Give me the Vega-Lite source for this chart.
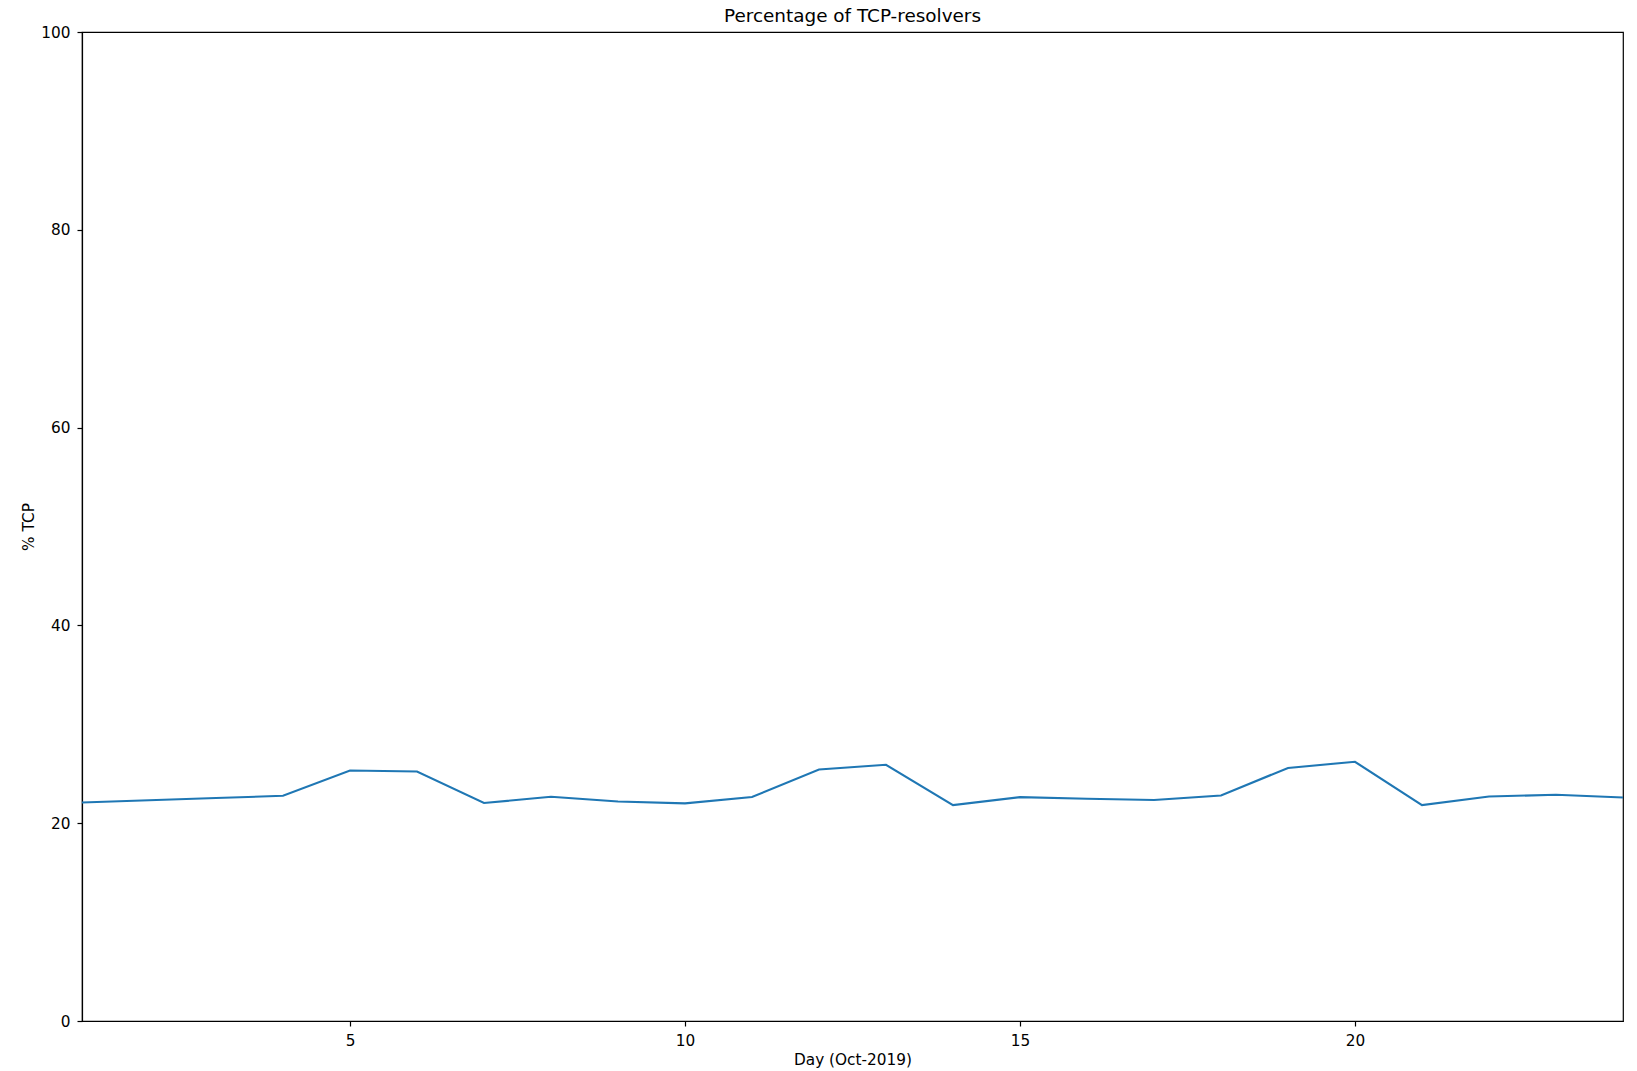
{
  "$schema": "https://vega.github.io/schema/vega-lite/v6.json",
  "width": 1541,
  "height": 989,
  "autosize": {"type": "none"},
  "padding": {"left": 82, "top": 32, "right": 14, "bottom": 50},
  "background": "white",
  "config": {
    "font": "DejaVu Sans",
    "view": {"stroke": "black", "strokeWidth": 1.2},
    "axis": {
      "grid": false,
      "domainColor": "black",
      "domainWidth": 1.2,
      "tickColor": "black",
      "tickSize": 5,
      "tickWidth": 1.2,
      "labelPadding": 7,
      "labelFontSize": 15.3,
      "labelColor": "black",
      "titleFontSize": 15.3,
      "titleFontWeight": "normal",
      "titleColor": "black",
      "labelFont": "DejaVu Sans",
      "titleFont": "DejaVu Sans"
    }
  },
  "title": {
    "text": "Percentage of TCP-resolvers",
    "fontSize": 18.4,
    "fontWeight": "normal",
    "font": "DejaVu Sans",
    "color": "black",
    "anchor": "middle",
    "frame": "group",
    "offset": 0
  },
  "data": {
    "values": [
      {"day": 1, "pct": 22.10},
      {"day": 2, "pct": 22.32},
      {"day": 3, "pct": 22.55},
      {"day": 4, "pct": 22.77},
      {"day": 5, "pct": 25.33},
      {"day": 6, "pct": 25.23},
      {"day": 7, "pct": 22.04},
      {"day": 8, "pct": 22.67},
      {"day": 9, "pct": 22.20},
      {"day": 10, "pct": 22.00},
      {"day": 11, "pct": 22.64},
      {"day": 12, "pct": 25.43},
      {"day": 13, "pct": 25.91},
      {"day": 14, "pct": 21.83},
      {"day": 15, "pct": 22.64},
      {"day": 16, "pct": 22.47},
      {"day": 17, "pct": 22.34},
      {"day": 18, "pct": 22.80},
      {"day": 19, "pct": 25.59},
      {"day": 20, "pct": 26.21},
      {"day": 21, "pct": 21.83},
      {"day": 22, "pct": 22.70},
      {"day": 23, "pct": 22.87},
      {"day": 24, "pct": 22.60}
    ]
  },
  "mark": {"type": "line", "color": "#1f77b4", "strokeWidth": 2.1},
  "encoding": {
    "x": {
      "field": "day",
      "type": "quantitative",
      "scale": {"domain": [1, 24], "nice": false, "zero": false},
      "axis": {"values": [5, 10, 15, 20], "title": "Day (Oct-2019)", "titlePadding": 4, "format": "d"}
    },
    "y": {
      "field": "pct",
      "type": "quantitative",
      "scale": {"domain": [0, 100], "nice": false},
      "axis": {"values": [0, 20, 40, 60, 80, 100], "title": "% TCP", "titlePadding": 4}
    }
  }
}
